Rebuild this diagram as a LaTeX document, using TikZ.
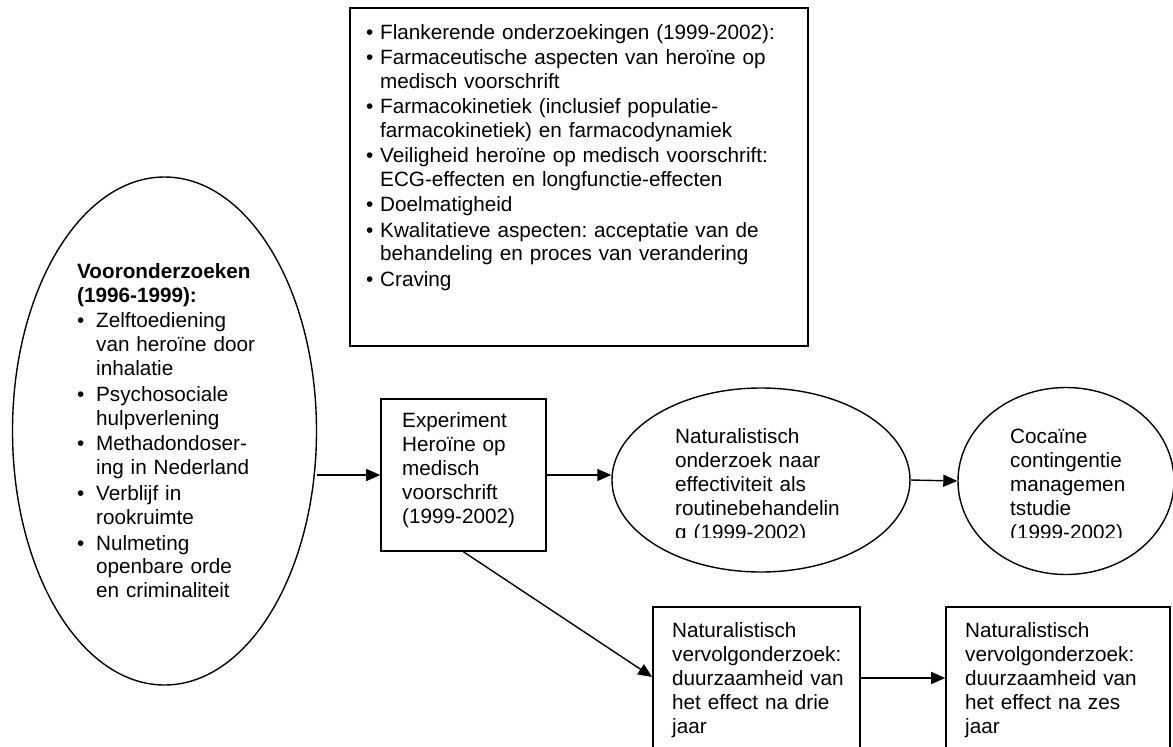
\documentclass[tikz,border=0pt]{standalone}
\usepackage{fontspec}
\setmainfont{Liberation Sans}
\usetikzlibrary{arrows.meta, positioning, shapes.geometric}
\frenchspacing

\newlength{\bulw}
\setlength{\bulw}{19pt}
\newcommand{\itm}{\par\hangindent=\bulw\hangafter=1\noindent\makebox[\bulw][l]{\textbullet}}

\tikzset{
  box/.style={draw, line width=1.6pt, inner sep=0pt},
  oval/.style={draw, ellipse, line width=1.4pt, inner sep=0pt},
  txt/.style={anchor=north west, align=left, inner sep=0pt, text width=#1,
    font=\fontsize{20.7}{23.8}\selectfont},
  txt/.default=200pt,
  link/.style={-{Triangle[length=14pt,width=12pt]}, line width=1.4pt},
}

\begin{document}
\begin{tikzpicture}[x=1pt, y=-1pt]
\clip (0,0) rectangle (1173,747);

% shapes
\node[oval, minimum width=304pt, minimum height=508pt] (voor) at (164.5,431) {};
\node[box, minimum width=458pt, minimum height=338pt] (flank) at (579,177) {};
\node[box, minimum width=165pt, minimum height=152pt] (exp) at (463.5,475) {};
\node[oval, minimum width=298pt, minimum height=184pt] (nat) at (761,480) {};
\node[oval, minimum width=216pt, minimum height=187pt] (coc) at (1066,481) {};
\node[box, minimum width=207pt, minimum height=150pt] (drie) at (756.5,682) {};
\node[box, minimum width=224pt, minimum height=150pt] (zes) at (1058,682) {};

% texts
\node[txt=240pt] (voortxt) at (77,263) {\setlength{\parskip}{2pt}\noindent
  \textbf{Vooronderzoeken}\newline\textbf{(1996-1999):}
  \itm Zelftoediening\newline van heroïne door\newline inhalatie
  \itm Psychosociale\newline hulpverlening
  \itm \mbox{Methadondoser-}\newline ing in Nederland
  \itm Verblijf in\newline rookruimte
  \itm Nulmeting\newline openbare orde\newline en criminaliteit\par};
\node[txt=440pt, font=\fontsize{20.7}{23.2}\selectfont] (flanktxt) at (366,13) {%
  \setlength{\parskip}{2.6pt}\setlength{\bulw}{14pt}%
  \itm\strut Flankerende onderzoekingen (1999-2002):
  \itm Farmaceutische aspecten van heroïne op\newline medisch voorschrift
  \itm Farmacokinetiek (inclusief \mbox{populatie-}\newline farmacokinetiek) en farmacodynamiek
  \itm Veiligheid heroïne op medisch voorschrift:\newline ECG-effecten en longfunctie-effecten
  \itm Doelmatigheid
  \itm Kwalitatieve aspecten: acceptatie van de\newline behandeling en proces van verandering
  \itm Craving\par};
\node[txt=150pt] (exptxt) at (402,411) {\strut Experiment\\Heroïne op\\medisch\\voorschrift\\(1999-2002)};
\begin{scope}
  \clip (600,380) rectangle (1173,537);
  \node[txt] (nattxt) at (675,427) {\strut Naturalistisch\\onderzoek naar\\effectiviteit als\\routinebehandelin\\g (1999-2002)};
  \node[txt] (coctxt) at (1010,427) {\strut Cocaïne\\contingentie\\managemen\\tstudie\\(1999-2002)};
\end{scope}
\node[txt] (drietxt) at (672,621) {\strut Naturalistisch\\vervolgonderzoek:\\duurzaamheid van\\het effect na drie\\jaar};
\node[txt] (zestxt) at (965,621) {\strut Naturalistisch\\vervolgonderzoek:\\duurzaamheid van\\het effect na zes\\jaar};

% connectors
\draw[link] (exp.west -| voor.east) -- (exp.west);
\draw[link] (exp.east) -- (exp.east -| nat.west);
\draw[link] (nat.east) -- (coc.west);
\draw[link] (exp.south) -- ([yshift=5pt]drie.west);
\draw[link] ([yshift=4pt]drie.east) -- ([yshift=4pt]drie.east -| zes.west);
\end{tikzpicture}
\end{document}
